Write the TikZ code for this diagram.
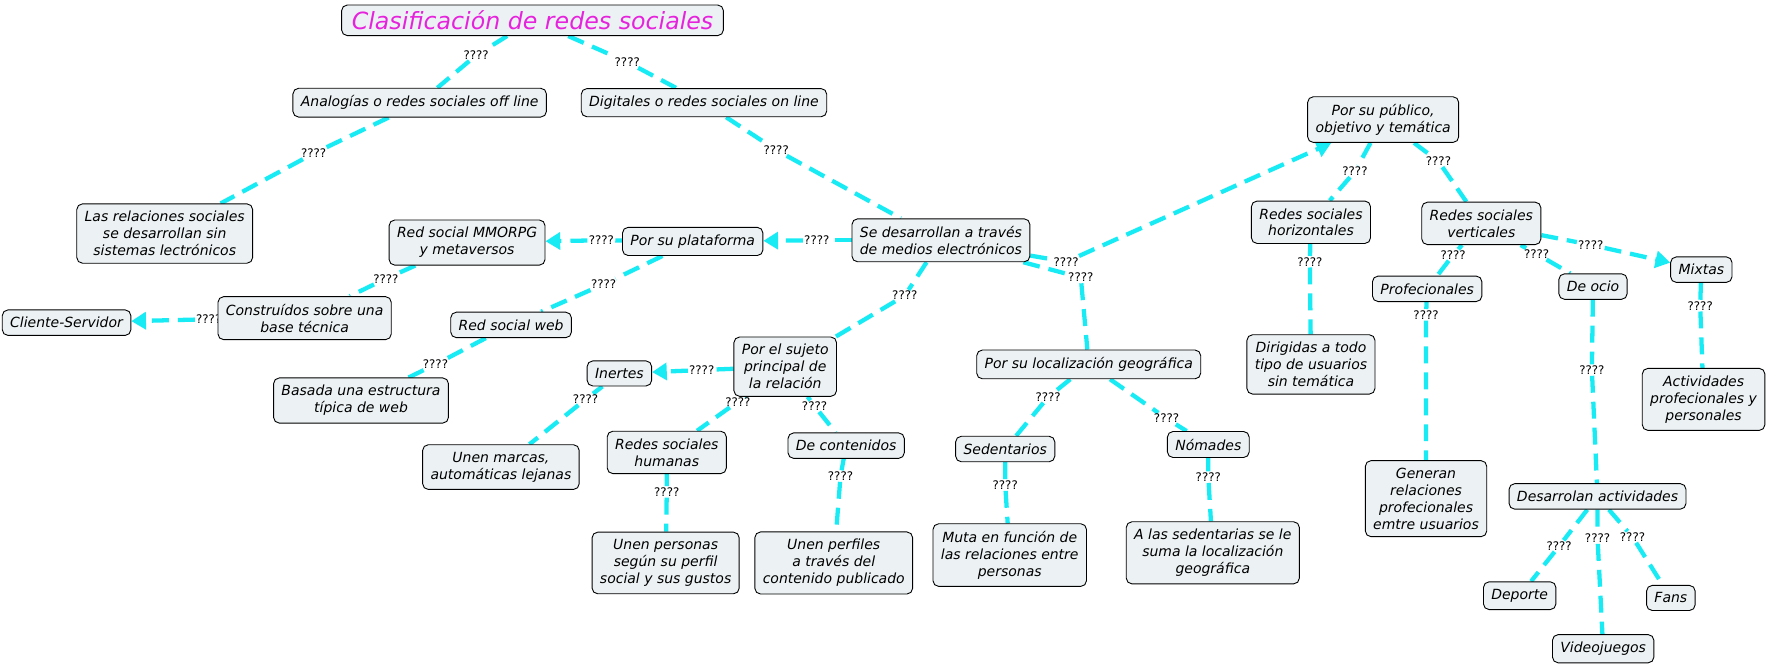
\documentclass[tikz,border=0pt]{standalone}
\usepackage{fontspec}
\setmainfont{DejaVu Sans}
\usetikzlibrary{arrows.meta,backgrounds}
\definecolor{boxfill}{RGB}{236,242,244}
\definecolor{linkcyan}{RGB}{25,235,245}
\definecolor{titlemag}{RGB}{230,35,220}

\begin{document}
\begin{tikzpicture}[x=1pt,y=-1pt,
    concept/.style={draw,line width=0.8pt,rounded corners=5pt,fill=boxfill,align=center,font=\fontsize{12.4}{15}\selectfont\itshape,inner xsep=7pt,inner ysep=6.5pt},
    lnk/.style={font=\fontsize{10.5}{12}\selectfont,inner sep=1pt},
    edge/.style={draw=linkcyan,line width=3.8pt,dash pattern=on 15pt off 8pt},
    tip/.style={-{Triangle[length=13pt,width=15pt]}}]
    \useasboundingbox (0,0) rectangle (1568,589.5);
    % concepts
    \node[concept,inner xsep=9pt,inner ysep=5pt,font=\fontsize{21}{25}\selectfont\itshape,text=titlemag] (title) at (472,18) {Clasificación de redes sociales};
    \node[concept] (analog) at (372,91) {Analogías o redes sociales off line};
    \node[concept] (digital) at (624,91) {Digitales o redes sociales on line};
    \node[concept] (lasrel) at (146,207) {Las relaciones sociales\\se desarrollan sin\\sistemas lectrónicos};
    \node[concept] (mmorpg) at (414,215) {Red social MMORPG\\y metaversos};
    \node[concept] (plataforma) at (614,214) {Por su plataforma};
    \node[concept] (medios) at (834,213) {Se desarrollan a través\\de medios electrónicos};
    \node[concept] (construidos) at (270,282) {Construídos sobre una\\base técnica};
    \node[concept] (cliente) at (59,286) {Cliente-Servidor};
    \node[concept] (redweb) at (453,288) {Red social web};
    \node[concept] (basada) at (320,355) {Basada una estructura\\típica de web};
    \node[concept] (sujeto) at (696,325) {Por el sujeto\\principal de\\la relación};
    \node[concept] (inertes) at (549,331) {Inertes};
    \node[concept] (marcas) at (444,414) {Unen marcas,\\automáticas lejanas};
    \node[concept] (humanas) at (591,401) {Redes sociales\\humanas};
    \node[concept] (contenidos) at (750,395) {De contenidos};
    \node[concept] (personas) at (590,499) {Unen personas\\según su perfil\\social y sus gustos};
    \node[concept] (perfiles) at (739,499) {Unen perfiles\\a través del\\contenido publicado};
    \node[concept] (localiz) at (965,323) {Por su localización geográfica};
    \node[concept] (sedent) at (891,398) {Sedentarios};
    \node[concept] (nomades) at (1071,394) {Nómades};
    \node[concept] (muta) at (895,492) {Muta en función de\\las relaciones entre\\personas};
    \node[concept] (suma) at (1075,490) {A las sedentarias se le\\suma la localización\\geográfica};
    \node[concept] (publico) at (1226,106) {Por su público,\\objetivo y temática};
    \node[concept] (horiz) at (1162,197) {Redes sociales\\horizontales};
    \node[concept] (vert) at (1313,198) {Redes sociales\\verticales};
    \node[concept] (dirigidas) at (1162,323) {Dirigidas a todo\\tipo de usuarios\\sin temática};
    \node[concept] (profes) at (1265,256) {Profecionales};
    \node[concept] (ocio) at (1412,254) {De ocio};
    \node[concept] (mixtas) at (1508,239) {Mixtas};
    \node[concept] (activ) at (1510,354) {Actividades\\profecionales y\\personales};
    \node[concept] (generan) at (1264,442) {Generan\\relaciones\\profecionales\\emtre usuarios};
    \node[concept] (desarr) at (1416,440) {Desarrolan actividades};
    \node[concept] (deporte) at (1347,528) {Deporte};
    \node[concept] (videoj) at (1421,575) {Videojuegos};
    \node[concept] (fans) at (1481,530) {Fans};
    % linking phrases
    \node[lnk] (l1) at (422,49) {????};
    \node[lnk] (l2) at (556,55) {????};
    \node[lnk] (l3) at (278,136) {????};
    \node[lnk] (l4) at (688,133) {????};
    \node[lnk] (l5) at (724,213) {????};
    \node[lnk] (l6) at (533,213) {????};
    \node[lnk] (l7) at (342,247) {????};
    \node[lnk] (l9) at (535,252) {????};
    \node[lnk] (l10) at (386,323) {????};
    \node[lnk] (l11) at (802,262) {????};
    \node[lnk] (l12) at (622,328) {????};
    \node[lnk] (l13) at (519,354) {????};
    \node[lnk] (l14) at (654,356) {????};
    \node[lnk] (l15) at (722,360) {????};
    \node[lnk] (l16) at (591,436) {????};
    \node[lnk] (l17) at (745,422) {????};
    \node[lnk] (l18) at (958,246) {????};
    \node[lnk] (l19) at (945,232) {????};
    \node[lnk] (l20) at (929,352) {????};
    \node[lnk] (l21) at (1034,371) {????};
    \node[lnk] (l22) at (891,430) {????};
    \node[lnk] (l23) at (1071,423) {????};
    \node[lnk] (l24) at (1201,152) {????};
    \node[lnk] (l25) at (1275,143) {????};
    \node[lnk] (l26) at (1161,232) {????};
    \node[lnk] (l27) at (1288,226) {????};
    \node[lnk] (l28) at (1362,225) {????};
    \node[lnk] (l29) at (1410,217) {????};
    \node[lnk] (l30) at (1264,279) {????};
    \node[lnk] (l31) at (1411,328) {????};
    \node[lnk] (l32) at (1507,271) {????};
    \node[lnk] (l33) at (1382,484) {????};
    \node[lnk] (l34) at (1416,477) {????};
    \node[lnk] (l35) at (1447,476) {????};
    % connectors
    \begin{scope}[on background layer]
    % half hidden behind its box
    \node[lnk] (l8) at (185,283) {????};
    \draw[edge] (title) -- (l1) -- (analog);
    \draw[edge] (title) -- (l2) -- (digital);
    \draw[edge] (analog) -- (l3) -- (lasrel);
    \draw[edge] (digital) -- (l4) -- (medios);
    \draw[edge] (medios) -- (l5);
    \draw[edge,tip] (l5) -- (plataforma);
    \draw[edge] (plataforma) -- (l6);
    \draw[edge,tip] (l6) -- (mmorpg);
    \draw[edge] (mmorpg) -- (l7) -- (construidos);
    \draw[edge,tip] (l8) -- (cliente);
    \draw[edge] (plataforma) -- (l9) -- (redweb);
    \draw[edge] (redweb) -- (l10) -- (basada);
    \draw[edge] (medios) -- (l11) -- (sujeto);
    \draw[edge] (sujeto) -- (l12);
    \draw[edge,tip] (l12) -- (inertes);
    \draw[edge] (inertes) -- (l13) -- (marcas);
    \draw[edge] (sujeto) -- (l14) -- (humanas);
    \draw[edge] (sujeto) -- (l15) -- (contenidos);
    \draw[edge] (humanas) -- (l16) -- (personas);
    \draw[edge] (contenidos) -- (l17) -- (perfiles);
    \draw[edge] (medios) -- (l18) -- (localiz);
    \draw[edge] (medios) -- (l19);
    \draw[edge,tip] (l19) -- (publico);
    \draw[edge] (localiz) -- (l20) -- (sedent);
    \draw[edge] (localiz) -- (l21) -- (nomades);
    \draw[edge] (sedent) -- (l22) -- (muta);
    \draw[edge] (nomades) -- (l23) -- (suma);
    \draw[edge] (publico) -- (l24) -- (horiz);
    \draw[edge] (publico) -- (l25) -- (vert);
    \draw[edge] (horiz) -- (l26) -- (dirigidas);
    \draw[edge] (vert) -- (l27) -- (profes);
    \draw[edge] (vert) -- (l28) -- (ocio);
    \draw[edge] (vert) -- (l29);
    \draw[edge,tip] (l29) -- (mixtas);
    \draw[edge] (profes) -- (l30) -- (generan);
    \draw[edge] (ocio) -- (l31) -- (desarr);
    \draw[edge] (mixtas) -- (l32) -- (activ);
    \draw[edge] (desarr) -- (l33) -- (deporte);
    \draw[edge] (desarr) -- (l34) -- (videoj);
    \draw[edge] (desarr) -- (l35) -- (fans);
    \end{scope}
\end{tikzpicture}
\end{document}
